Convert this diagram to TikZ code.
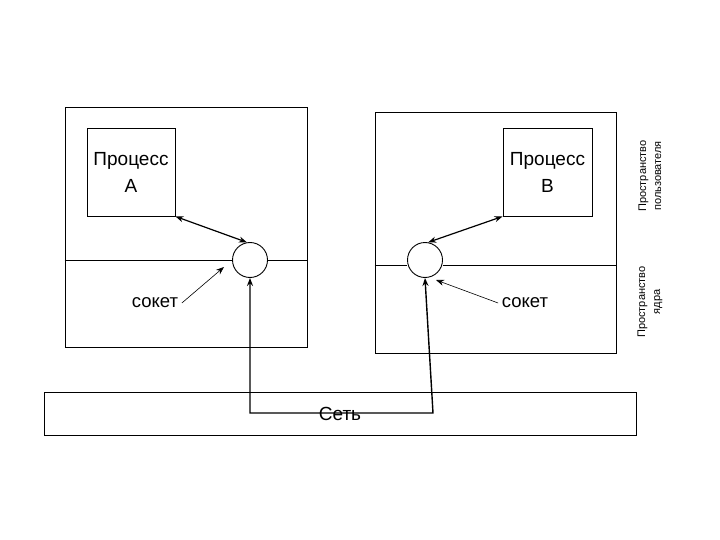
\documentclass[tikz,border=0pt]{standalone}
\usepackage{fontspec}
\setmainfont{Liberation Sans}
\usetikzlibrary{arrows.meta}
\begin{document}
\begin{tikzpicture}[x=1pt, y=-1pt, >={Stealth[length=8pt, width=6pt]}, line width=0.9pt]
\useasboundingbox (0,0) rectangle (720,540);
\node[draw, minimum width=242pt, minimum height=240pt] (hostA) at (186,227) {};
\node[draw, minimum width=241pt, minimum height=241pt] (hostB) at (495.5,232.5) {};
\node[draw, align=center, minimum width=88pt, minimum height=88pt, font=\fontsize{19}{27}\selectfont] (procA) at (131,172) {Процесс\\A};
\node[draw, align=center, minimum width=89pt, minimum height=88pt, font=\fontsize{19}{27}\selectfont] (procB) at (547.5,172) {Процесс\\B};
\node[draw, circle, fill=white, minimum size=35pt, inner sep=0pt] (sockA) at (250,260) {};
\node[draw, circle, fill=white, minimum size=35pt, inner sep=0pt] (sockB) at (425,260) {};
\node[draw, minimum width=592pt, minimum height=43pt, font=\fontsize{19}{21}\selectfont] (net) at (340,413.5) {Сеть};
\node[font=\fontsize{18.5}{21}\selectfont] (lblA) at (155,303) {сокет};
\node[font=\fontsize{18.5}{21}\selectfont] (lblB) at (525,303) {сокет};
\node[rotate=90, align=center, font=\fontsize{11}{15}\selectfont] (userSp) at (650,176) {Пространство\\пользователя};
\node[rotate=90, align=center, font=\fontsize{11}{15}\selectfont] (kernSp) at (650,302) {Пространство\\ядра};
\coordinate (tipA) at (224,267);
\coordinate (tipB) at (436,280);
\coordinate (bend) at (433,413);
% kernel / user split
\draw (hostA.west |- sockA) -- (sockA.west);
\draw (sockA.east) -- (hostA.east |- sockA);
\draw (hostB.west |- 0,265) -- (sockB.west |- 0,265);
\draw (sockB.east |- 0,265) -- (hostB.east |- 0,265);
\draw[<->, line width=1.2pt] (procA.south east) -- (sockA.100);
\draw[<->, line width=1.2pt] (procB.south west) -- (sockB.80);
\draw[->, line width=0.6pt] (lblA.east) -- (tipA);
\draw[->, line width=0.6pt] (lblB.west) -- (tipB);
\draw[<->, line width=1.4pt] (sockA.south) -- (sockA.south |- bend) -- (bend) -- (sockB.south);
\end{tikzpicture}
\end{document}
